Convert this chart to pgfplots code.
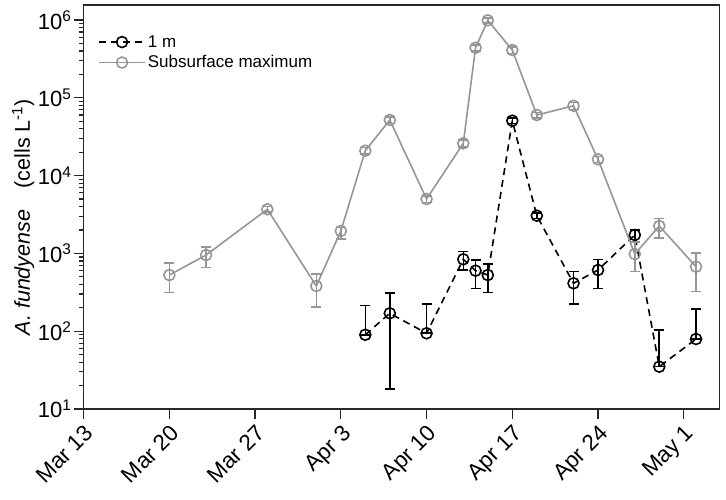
\documentclass[border=0pt]{standalone}
\usepackage{fontspec}
\setmainfont{Liberation Sans}
\usepackage{pgfplots}
\pgfplotsset{compat=1.18}
\definecolor{sgray}{RGB}{150,150,150}
\definecolor{axc}{RGB}{40,40,40}
\begin{document}
\begin{tikzpicture}
\path[use as bounding box] (-83.6pt,-90pt) rectangle (642.4pt,409pt);
\begin{axis}[
  at={(0,0)}, anchor=south west,
  scale only axis, width=635.7pt, height=404pt,
  xmin=0, xmax=51.9,
  ymode=log, ymin=10, ymax=1.56e6,
  xtick={0,7,14,21,28,35,42,49},
  xticklabels={Mar 13,Mar 20,Mar 27,Apr 3,Apr 10,Apr 17,Apr 24,May 1},
  x tick label style={rotate=45, anchor=north east, font=\fontsize{22.5}{26}\selectfont, text=black, inner sep=3pt},
  ytick={10,100,1000,10000,100000,1000000},
  yticklabels={10\textsuperscript{1},10\textsuperscript{2},10\textsuperscript{3},10\textsuperscript{4},10\textsuperscript{5},10\textsuperscript{6}},
  minor ytick={20,30,40,50,60,70,80,90,200,300,400,500,600,700,800,900,2000,3000,4000,5000,6000,7000,8000,9000,20000,30000,40000,50000,60000,70000,80000,90000,200000,300000,400000,500000,600000,700000,800000,900000},
  y tick label style={font=\fontsize{22}{25}\selectfont, text=black, inner sep=2pt},
  tick align=outside, tick pos=left,
  major tick length=10pt, minor tick length=5pt,
  axis line style={axc, line width=1.4pt},
  every tick/.style={axc, line width=1.2pt},
  ylabel={\textit{A. fundyense}\quad (cells L\textsuperscript{-1})},
  ylabel style={at={(axis description cs:-0.095,0.475)}, anchor=center, font=\fontsize{21.5}{25}\selectfont},
  legend style={font=\fontsize{17}{20}\selectfont, draw=none, fill=none, at={(0.018,0.935)}, anchor=north west, row sep=3pt},
  legend cell align=left,
  legend image code/.code={\draw[mark repeat=2,mark phase=2] plot coordinates {(0pt,0pt)(23pt,0pt)(46pt,0pt)};},
]
% 1 m
\addplot[black, line width=1.6pt, dash pattern=on 7pt off 5pt,
  mark=o, mark size=5.5pt, mark options={solid, fill=white, line width=1.6pt},
  error bars/.cd, y dir=both, y explicit,
  error bar style={solid, line width=1.6pt, black},
  error mark options={rotate=90, mark size=5pt, line width=1.6pt, black}]
coordinates {
(23,90) += (0,125) -= (0,0)
(25,170) += (0,140) -= (0,152)
(28,94) += (0,128) -= (0,0)
(31,840) += (0,212) -= (0,228)
(32,600) += (0,222) -= (0,244)
(33,527) += (0,204) -= (0,211)
(35,50800) += (0,4000) -= (0,4000)
(37,3055) += (0,250) -= (0,250)
(40,413) += (0,169) -= (0,191)
(42,612) += (0,228) -= (0,256)
(45,1727) += (0,268) -= (0,317)
(47,35) += (0,69) -= (0,0)
(50,79.4) += (0,114) -= (0,0)
};
\addlegendentry{1 m}
% Subsurface maximum
\addplot[sgray, line width=1.6pt,
  mark=o, mark size=5.5pt, mark options={solid, fill=white, line width=1.6pt},
  error bars/.cd, y dir=both, y explicit,
  error bar style={line width=1.6pt, sgray},
  error mark options={rotate=90, mark size=5pt, line width=1.6pt, sgray}]
coordinates {
(7,527) += (0,226) -= (0,211)
(10,953) += (0,255) -= (0,291)
(15,3690) += (0,300) -= (0,300)
(19,381) += (0,162) -= (0,178)
(21,1941) += (0,200) -= (0,410)
(23,20900) += (0,2000) -= (0,2000)
(25,51900) += (0,5000) -= (0,5000)
(28,5000) += (0,500) -= (0,500)
(31,26000) += (0,2500) -= (0,2500)
(32,440000) += (0,40000) -= (0,40000)
(33,990000) += (0,80000) -= (0,80000)
(35,411000) += (0,40000) -= (0,40000)
(37,60100) += (0,5000) -= (0,5000)
(40,79000) += (0,8000) -= (0,8000)
(42,16200) += (0,1500) -= (0,1500)
(45,982) += (0,428) -= (0,400)
(47,2250) += (0,570) -= (0,660)
(50,675) += (0,345) -= (0,353)
};
\addlegendentry{Subsurface maximum}
\end{axis}
\end{tikzpicture}
\end{document}
